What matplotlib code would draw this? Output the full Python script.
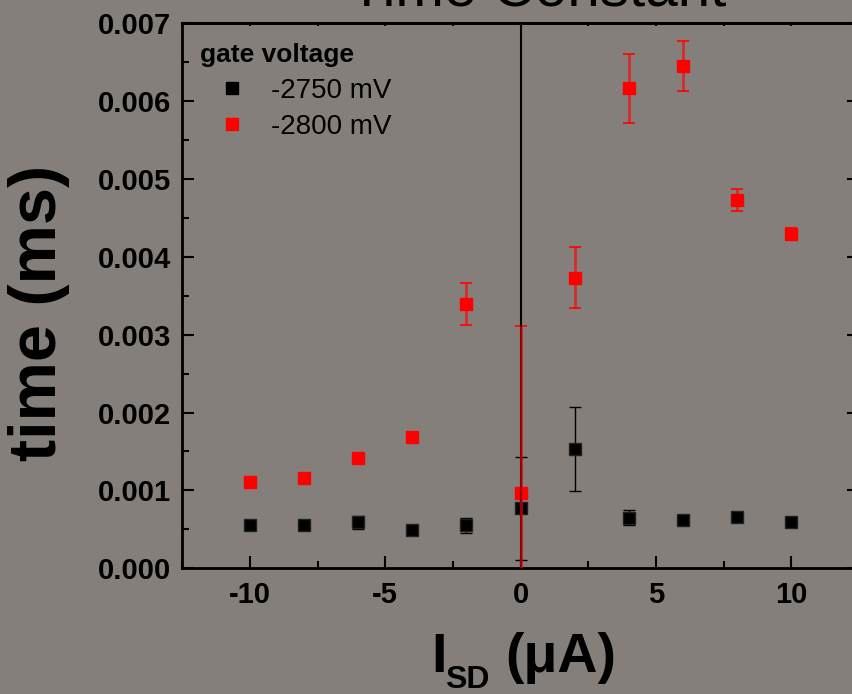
import matplotlib
matplotlib.use("Agg")
import matplotlib.pyplot as plt
from matplotlib.ticker import MultipleLocator, FormatStrFormatter
from matplotlib.lines import Line2D

# source-drain current (uA)
isd = [-10, -8, -6, -4, -2, 0, 2, 4, 6, 8, 10]

# gate voltage -2750 mV
t_2750 = [0.000555, 0.00055, 0.00059, 0.00049, 0.00055, 0.00077,
          0.00153, 0.00065, 0.000615, 0.000654, 0.0006]
e_2750 = [0.00002, 0.00002, 0.00008, 0.00004, 0.0001, 0.00066,
          0.00054, 0.0001, 0.00003, 0.00003, 0.00003]

# gate voltage -2800 mV
t_2800 = [0.00111, 0.00116, 0.00142, 0.00168, 0.00339, 0.00097,
          0.00373, 0.00616, 0.00645, 0.00473, 0.00429]
e_2800 = [0.00002, 0.00002, 0.00003, 0.00004, 0.00027, 0.00214,
          0.00039, 0.00044, 0.00032, 0.00014, 0.00008]

labels = ["-2750 mV", "-2800 mV"]

bg = "#847F7A"
plt.rcParams["font.family"] = ["Liberation Sans", "DejaVu Sans"]
plt.rcParams["axes.unicode_minus"] = False

fig = plt.figure(figsize=(8.53, 6.94), dpi=100, facecolor=bg)
ax = fig.add_axes([0.2137, 0.1811, 0.7933, 0.7857], facecolor=bg)

# black series
l1, c1, b1 = ax.errorbar(isd, t_2750, yerr=e_2750, fmt="s", color="black",
                         ms=8, mec="#202020", ecolor="black", elinewidth=1,
                         capsize=4, capthick=1, zorder=3)
# red series
l2, c2, b2 = ax.errorbar(isd, t_2800, yerr=e_2800, fmt="s", color="red",
                         ms=8, mec="red", ecolor="red", elinewidth=2,
                         capsize=4, capthick=1.2, zorder=3)
for b in b2:
    b.set_alpha(0.65)
    b.set_zorder(6)

ax.axvline(0, color="black", lw=1.5, zorder=5)

ax.set_xlim(-12.5, 12.5)
ax.set_ylim(0, 0.007)

ax.xaxis.set_major_locator(MultipleLocator(5))
ax.xaxis.set_minor_locator(MultipleLocator(2.5))
ax.yaxis.set_major_locator(MultipleLocator(0.001))
ax.yaxis.set_minor_locator(MultipleLocator(0.0005))
ax.yaxis.set_major_formatter(FormatStrFormatter("%.3f"))

ax.tick_params(which="both", direction="in", width=1.5, top=False, right=True)
ax.tick_params(which="major", length=8.5)
ax.tick_params(which="minor", length=5)
ax.tick_params(axis="x", pad=9, labelsize=21)
ax.tick_params(axis="y", pad=8, labelsize=21)
for lab in ax.get_xticklabels() + ax.get_yticklabels():
    lab.set_fontweight("bold")

top = ax.secondary_xaxis("top")
top.xaxis.set_major_locator(MultipleLocator(2.5))
top.tick_params(direction="in", length=2.5, width=1.5, labeltop=False)

for s in ax.spines.values():
    s.set_linewidth(2)
top.spines["top"].set_linewidth(2)

ax.set_ylabel("time (ms)", fontsize=48, fontweight="bold")
ax.yaxis.set_label_coords(-0.166, 0.469)

# x label: I_SD (uA)
fig.text(431 / 853, (694 - 672) / 694, "I", fontsize=40, fontweight="bold",
         ha="left", va="baseline")
fig.text(445 / 853, (694 - 688) / 694, "SD", fontsize=23, fontweight="bold",
         ha="left", va="baseline")
fig.text(505 / 853, (694 - 672) / 694, "(μA)", fontsize=40, fontweight="bold",
         ha="left", va="baseline")

# title, mostly cut off at the top
fig.text(538 / 853, 1 - 5 / 694, "Time Constant", fontsize=42,
         ha="center", va="baseline")

handles = [Line2D([], [], ls="none", marker="s", color="black", ms=8),
           Line2D([], [], ls="none", marker="s", color="red", ms=8)]
leg = ax.legend(handles, labels, title="gate voltage", frameon=False,
                loc="upper left", bbox_to_anchor=(-0.007, 1.004), fontsize=20,
                title_fontproperties={"weight": "bold", "size": 19},
                handlelength=2.3, handletextpad=0.25, labelspacing=0.38,
                alignment="left", borderaxespad=0.4)

fig.savefig("out.png", dpi=100, facecolor=bg)
